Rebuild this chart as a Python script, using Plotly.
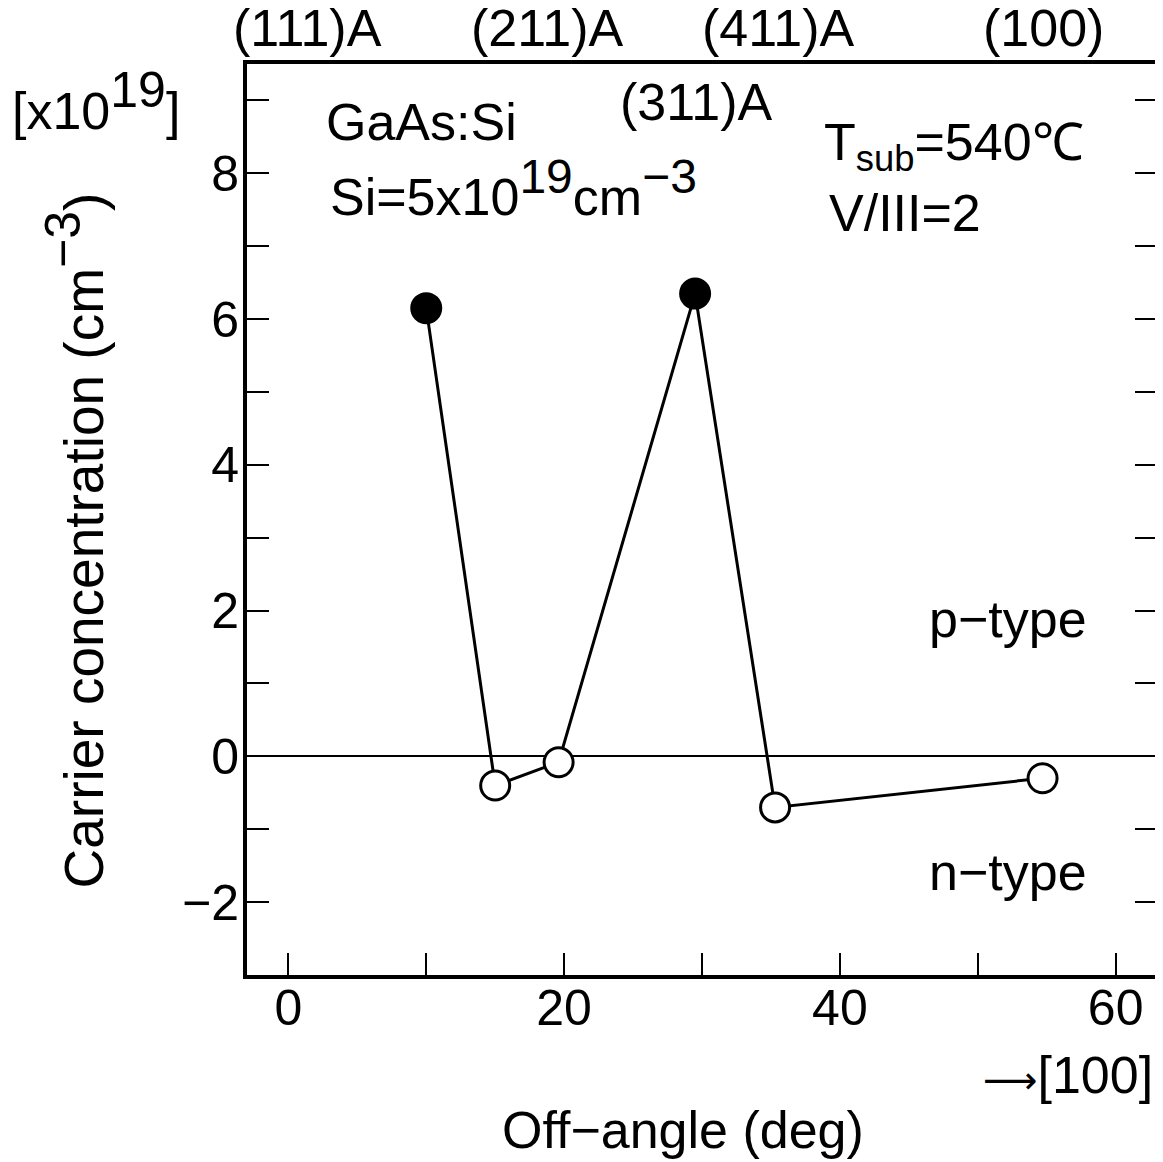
import plotly.graph_objects as go

off_angle = [10.0, 15.0, 19.6, 29.5, 35.3, 54.7]
carrier = [6.15, -0.4, -0.08, 6.35, -0.7, -0.3]
is_p_type = [True, False, False, True, False, False]

plane_labels = ["(111)A", "(211)A", "(411)A", "(100)"]
plane_pos = [0.067, 0.330, 0.584, 0.875]   # paper x of the labels above the frame

FONT = "Liberation Sans, Arial, sans-serif"
FS = 52
TFS = 50

def sup(t, size=48):
    return "<sup><span style='font-size:%dpx'>%s</span></sup>" % (size, t)

fig = go.Figure()
fig.add_trace(go.Scatter(
    x=off_angle, y=carrier, mode="lines+markers",
    line=dict(color="black", width=3),
    marker=dict(size=29, color=["black" if p else "white" for p in is_p_type],
                line=dict(color="black", width=3)),
    showlegend=False, cliponaxis=False,
))

ann = []
for lab, px in zip(plane_labels, plane_pos):
    ann.append(dict(x=px, y=1.040, xref="paper", yref="paper", text=lab,
                    xanchor="center", yanchor="middle"))
ann += [
    dict(x=29.6, y=8.98, text="(311)A", xanchor="center", yanchor="middle"),
    dict(x=2.6, y=8.70, text="GaAs:Si", xanchor="left", yanchor="middle"),
    dict(x=2.9, y=7.80, text="Si=5x10" + sup("19") + "cm" + sup("−3"), xanchor="left", yanchor="middle"),
    dict(x=38.7, y=8.37, text="T<sub>sub</sub>=540℃", xanchor="left", yanchor="middle"),
    dict(x=39.1, y=7.46, text="V/III=2", xanchor="left", yanchor="middle"),
    dict(x=46.3, y=1.89, text="p−type", xanchor="left", yanchor="middle"),
    dict(x=46.3, y=-1.58, text="n−type", xanchor="left", yanchor="middle"),
    dict(x=0.998, y=-0.110, xref="paper", yref="paper",
         text="<span style='font-family:DejaVu Sans;font-size:38px'>⟶</span>[100]", xanchor="right", yanchor="middle"),
    dict(x=0.479, y=-0.170, xref="paper", yref="paper", text="Off−angle (deg)", xanchor="center", yanchor="middle"),
    dict(x=-0.260, y=0.959, xref="paper", yref="paper", text="[x10" + sup("19", 50) + "]", xanchor="left", yanchor="middle"),
    dict(x=-0.189, y=0.477, xref="paper", yref="paper", text="Carrier concentration (cm" + sup("−3", 50) + ")",
         textangle=-90, xanchor="center", yanchor="middle", size=55),
]
for a in ann:
    a.setdefault("xref", "x")
    a.setdefault("yref", "y")
    size = a.pop("size", FS)
    a.update(showarrow=False, font=dict(family=FONT, size=size, color="black"))

tick_common = dict(ticks="inside", ticklen=22, tickwidth=2, tickcolor="black")

fig.update_layout(
    width=1155, height=1154,
    margin=dict(l=239, r=6, t=56, b=187, autoexpand=False),
    paper_bgcolor="white", plot_bgcolor="white",
    font=dict(family=FONT, size=TFS, color="black"),
    annotations=ann,
    xaxis=dict(range=[-3, 63], showgrid=False, zeroline=False, automargin=False,
               showline=True, linecolor="black", linewidth=4, mirror=True,
               dtick=20, tick0=0, ticklabelstandoff=-14, **tick_common,
               minor=dict(dtick=10, showgrid=False, **tick_common),
               tickfont=dict(family=FONT, size=TFS)),
    yaxis=dict(range=[-3, 9.5], showgrid=False, automargin=False,
               zeroline=True, zerolinecolor="black", zerolinewidth=2,
               showline=True, linecolor="black", linewidth=4, mirror="ticks",
               dtick=2, tick0=0, ticklabelstandoff=-6, **tick_common,
               minor=dict(dtick=1, showgrid=False, **tick_common),
               tickfont=dict(family=FONT, size=TFS)),
)

fig.write_html("out.html")
